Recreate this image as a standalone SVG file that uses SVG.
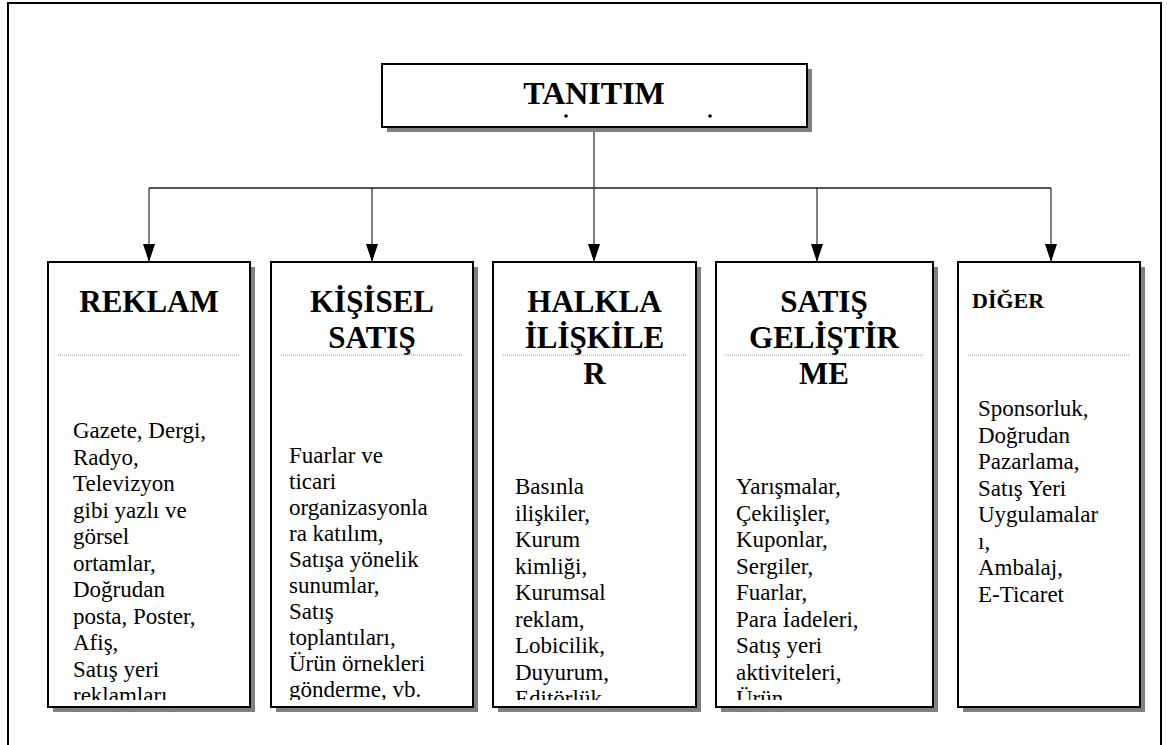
<svg xmlns="http://www.w3.org/2000/svg" width="1167" height="745" viewBox="0 0 1167 745">
<style>
.frame{fill:none;stroke:#000;stroke-width:2}
.box{fill:#fff;stroke:#000;stroke-width:2}
.shadow{fill:#808080}
.head{font-family:"Liberation Serif","Times New Roman",serif;font-weight:bold;font-size:31px;text-anchor:middle;fill:#000}
.body{font-family:"Liberation Serif","Times New Roman",serif;font-size:23px;fill:#000}
.sep{stroke:#999;stroke-width:1;stroke-dasharray:1 1}
.conn{stroke:#000;stroke-width:1;fill:none}
</style>
<defs>
<marker id="arr" viewBox="0 0 18 12" refX="18" refY="6" markerWidth="18" markerHeight="12" markerUnits="userSpaceOnUse" orient="auto">
<path d="M0,0 L18,6 L0,12 Z" fill="#000"/>
</marker>
<clipPath id="c1"><rect x="49" y="263" width="200" height="437"/></clipPath>
<clipPath id="c2"><rect x="272" y="263" width="200" height="437"/></clipPath>
<clipPath id="c3"><rect x="494" y="263" width="201" height="437"/></clipPath>
<clipPath id="c4"><rect x="717" y="263" width="215" height="437"/></clipPath>
<clipPath id="c5"><rect x="959" y="263" width="180" height="437"/></clipPath>
</defs>
<rect width="1167" height="745" fill="#fff"/>
<path class="frame" d="M8,745 V3 H1161 V745"/>

<g id="connectors">
<line class="conn" x1="594" y1="127" x2="594" y2="188"/>
<line x1="149" y1="188" x2="1051" y2="188" stroke="#555" stroke-width="2"/>
<line class="conn" x1="149" y1="188" x2="149" y2="262" marker-end="url(#arr)"/>
<line class="conn" x1="372" y1="188" x2="372" y2="262" marker-end="url(#arr)"/>
<line class="conn" x1="594" y1="188" x2="594" y2="262" marker-end="url(#arr)"/>
<line class="conn" x1="817" y1="188" x2="817" y2="262" marker-end="url(#arr)"/>
<line class="conn" x1="1051" y1="188" x2="1051" y2="262" marker-end="url(#arr)"/>
</g>

<g id="tanitim">
<rect class="shadow" x="387" y="69" width="425" height="63"/>
<rect class="box" x="382" y="64" width="425" height="63"/>
<text class="head" x="594" y="104" style="font-size:32px">TANITIM</text>
<circle cx="566" cy="116" r="1.8" fill="#000"/>
<circle cx="710" cy="116" r="1.8" fill="#000"/>
</g>

<g id="reklam">
<rect class="shadow" x="53" y="267" width="202" height="445"/>
<rect class="box" x="48" y="262" width="202" height="445"/>
<text class="head" x="149" y="312">REKLAM</text>
<line class="sep" x1="58" y1="355" x2="240" y2="355"/>
<text class="body" clip-path="url(#c1)"><tspan x="73" y="438">Gazete, Dergi,</tspan><tspan x="73" y="464.5">Radyo,</tspan><tspan x="73" y="491">Televizyon</tspan><tspan x="73" y="517.5">gibi yazlı ve</tspan><tspan x="73" y="544">görsel</tspan><tspan x="73" y="570.5">ortamlar,</tspan><tspan x="73" y="597">Doğrudan</tspan><tspan x="73" y="623.5">posta, Poster,</tspan><tspan x="73" y="650">Afiş,</tspan><tspan x="73" y="676.5">Satış yeri</tspan><tspan x="73" y="703">reklamları</tspan></text>
</g>

<g id="kisisel">
<rect class="shadow" x="276" y="267" width="202" height="445"/>
<rect class="box" x="271" y="262" width="202" height="445"/>
<text class="head" x="372" y="312">KİŞİSEL</text>
<text class="head" x="372" y="348">SATIŞ</text>
<line class="sep" x1="281" y1="355" x2="463" y2="355"/>
<text class="body" clip-path="url(#c2)"><tspan x="289" y="463">Fuarlar ve</tspan><tspan x="289" y="489">ticari</tspan><tspan x="289" y="515">organizasyonla</tspan><tspan x="289" y="541">ra katılım,</tspan><tspan x="289" y="567">Satışa yönelik</tspan><tspan x="289" y="593">sunumlar,</tspan><tspan x="289" y="619">Satış</tspan><tspan x="289" y="645">toplantıları,</tspan><tspan x="289" y="671">Ürün örnekleri</tspan><tspan x="289" y="697">gönderme, vb.</tspan></text>
</g>

<g id="halkla">
<rect class="shadow" x="498" y="267" width="203" height="445"/>
<rect class="box" x="493" y="262" width="203" height="445"/>
<text class="head" x="594.5" y="312">HALKLA</text>
<text class="head" x="594.5" y="348">İLİŞKİLE</text>
<text class="head" x="594.5" y="384">R</text>
<line class="sep" x1="503" y1="355" x2="686" y2="355"/>
<text class="body" clip-path="url(#c3)"><tspan x="515" y="494">Basınla</tspan><tspan x="515" y="520.5">ilişkiler,</tspan><tspan x="515" y="547">Kurum</tspan><tspan x="515" y="573.5">kimliği,</tspan><tspan x="515" y="600">Kurumsal</tspan><tspan x="515" y="626.5">reklam,</tspan><tspan x="515" y="653">Lobicilik,</tspan><tspan x="515" y="679.5">Duyurum,</tspan><tspan x="515" y="706">Editörlük</tspan></text>
</g>

<g id="satis">
<rect class="shadow" x="721" y="267" width="217" height="445"/>
<rect class="box" x="716" y="262" width="217" height="445"/>
<text class="head" x="824" y="312">SATIŞ</text>
<text class="head" x="824" y="348">GELİŞTİR</text>
<text class="head" x="824" y="384">ME</text>
<line class="sep" x1="726" y1="355" x2="924" y2="355"/>
<text class="body" clip-path="url(#c4)"><tspan x="736" y="494">Yarışmalar,</tspan><tspan x="736" y="520.5">Çekilişler,</tspan><tspan x="736" y="547">Kuponlar,</tspan><tspan x="736" y="573.5">Sergiler,</tspan><tspan x="736" y="600">Fuarlar,</tspan><tspan x="736" y="626.5">Para İadeleri,</tspan><tspan x="736" y="653">Satış yeri</tspan><tspan x="736" y="679.5">aktiviteleri,</tspan><tspan x="736" y="706">Ürün</tspan></text>
</g>

<g id="diger">
<rect class="shadow" x="963" y="267" width="182" height="445"/>
<rect class="box" x="958" y="262" width="182" height="445"/>
<text class="head" x="972" y="308" style="font-size:22px;text-anchor:start">DİĞER</text>
<line class="sep" x1="968" y1="355" x2="1130" y2="355"/>
<text class="body" clip-path="url(#c5)"><tspan x="978" y="416">Sponsorluk,</tspan><tspan x="978" y="442.5">Doğrudan</tspan><tspan x="978" y="469">Pazarlama,</tspan><tspan x="978" y="495.5">Satış Yeri</tspan><tspan x="978" y="522">Uygulamalar</tspan><tspan x="978" y="548.5">ı,</tspan><tspan x="978" y="575">Ambalaj,</tspan><tspan x="978" y="601.5">E-Ticaret</tspan></text>
</g>
</svg>
